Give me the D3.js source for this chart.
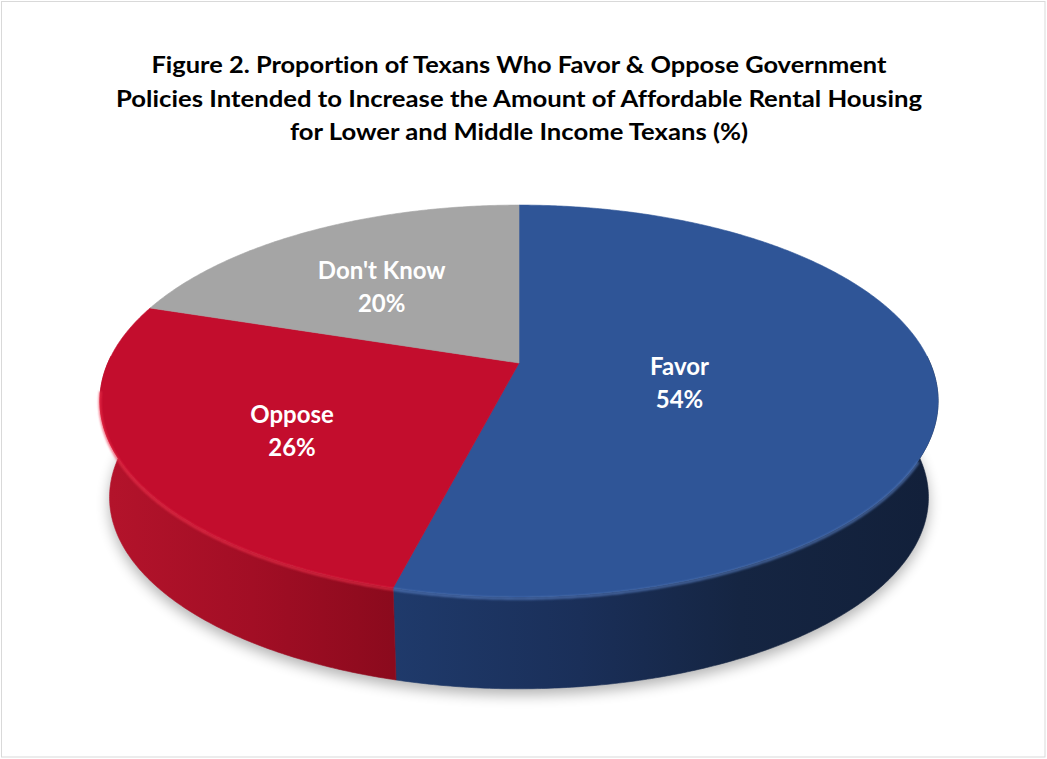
<!DOCTYPE html>
<html>
<head>
<meta charset="utf-8">
<script src="https://cdn.jsdelivr.net/npm/d3@7"></script>
<style>
  html, body { margin: 0; padding: 0; background: #fff; }
  svg { display: block; }
  text { font-family: Lato, "Open Sans", sans-serif; font-weight: 700; font-variant-ligatures: none; }
</style>
</head>
<body>
<svg id="chart" width="1047" height="759"></svg>
<script>
// Survey shares (%)
const categories = ["Favor", "Oppose", "Don't Know"];
const values = [54, 26, 20];
const titleLines = [
  "Figure 2. Proportion of Texans Who Favor & Oppose Government",
  "Policies Intended to Increase the Amount of Affordable Rental Housing",
  "for Lower and Middle Income Texans (%)"
];

// Styling
const topColors = ["#2f5597", "#c30d2d", "#a5a5a5"];
const rimColors = ["#5b82c6", "#f0324e", "#c8c8c8"];
const wallStops = [
  [["0%", "#1f3a6b"], ["35%", "#1a2f59"], ["65%", "#152542"], ["100%", "#12203a"]],
  [["0%", "#b3132b"], ["50%", "#a20e25"], ["100%", "#8b0a1d"]],
  [["0%", "#7d7d7d"], ["100%", "#6a6a6a"]]
];
const titleWidths = [735, 806, 458];

const W = 1047, H = 759;
const svg = d3.select("#chart");

// Perspective camera for the pie's top face
const cam = { cx: 519, cy: 363, f: 1883, D: 4.58, tilt: 27.3 * Math.PI / 180 };
const cosT = Math.cos(cam.tilt), sinT = Math.sin(cam.tilt);
// Vertical extrusion converges toward a vanishing point far below
const vanish = { x: 519, y: 4590, k: 0.977 };

function topPt(a, r = 1) {
  const X = r * Math.sin(a), Y = r * Math.cos(a);
  const d = cam.D + Y * cosT;
  return [cam.cx + cam.f * X / d, cam.cy - cam.f * Y * sinT / d];
}
function botPt(a) {
  const [x, y] = topPt(a);
  return [vanish.x + (x - vanish.x) * vanish.k, vanish.y + (y - vanish.y) * vanish.k];
}
function arcPts(fn, a0, a1) {
  const n = Math.max(2, Math.ceil(Math.abs(a1 - a0) / (Math.PI / 360)));
  return d3.range(n + 1).map(i => fn(a0 + (a1 - a0) * i / n));
}

const pie = d3.pie().sort(null).value(d => d.value);
const slices = pie(categories.map((c, i) => ({ name: c, value: values[i], i })));

const defs = svg.append("defs");
defs.append("filter").attr("id", "shadowBlur")
  .attr("x", "-20%").attr("y", "-20%").attr("width", "140%").attr("height", "140%")
  .append("feGaussianBlur").attr("stdDeviation", 7);
defs.append("filter").attr("id", "rimBlur")
  .attr("x", "-5%").attr("y", "-20%").attr("width", "110%").attr("height", "140%")
  .append("feGaussianBlur").attr("stdDeviation", 1.1);

// Frame
svg.append("rect")
  .attr("x", 1.5).attr("y", 1.5).attr("width", W - 3.5).attr("height", H - 3.5)
  .attr("fill", "#fff").attr("stroke", "#d9d9d9").attr("stroke-width", 1);

// Title
svg.append("g").selectAll("text").data(titleLines).join("text")
  .attr("x", 519)
  .attr("y", (d, i) => 73 + i * 33.7)
  .attr("text-anchor", "middle")
  .attr("font-size", 23.5)
  .attr("textLength", (d, i) => titleWidths[i])
  .attr("lengthAdjust", "spacingAndGlyphs")
  .attr("fill", "#000")
  .text(d => d);

const line = d3.line();

// Soft drop shadow under the pie
svg.append("path")
  .attr("d", line(arcPts(botPt, 0, 2 * Math.PI)) + "Z")
  .attr("transform", "translate(0,6)")
  .attr("fill", "#000").attr("opacity", 0.3)
  .attr("filter", "url(#shadowBlur)");

// Outer walls (front half is visible)
const wallLo = 88 * Math.PI / 180, wallHi = 272 * Math.PI / 180;
slices.forEach(s => {
  const a0 = Math.max(s.startAngle, wallLo), a1 = Math.min(s.endAngle, wallHi);
  if (a1 <= a0) return;
  const p0 = topPt(a0), p1 = topPt(a1);
  // gradient runs from the slice's left edge to its right edge
  const g = defs.append("linearGradient")
    .attr("id", "wall" + s.data.i)
    .attr("gradientUnits", "userSpaceOnUse")
    .attr("x1", Math.min(p0[0], p1[0])).attr("y1", 0)
    .attr("x2", Math.max(p0[0], p1[0])).attr("y2", 0);
  wallStops[s.data.i].forEach(st => {
    g.append("stop").attr("offset", st[0]).attr("stop-color", st[1]);
  });
  const pts = arcPts(topPt, a0, a1).concat(arcPts(botPt, a1, a0));
  svg.append("path")
    .attr("d", line(pts) + "Z")
    .attr("fill", `url(#wall${s.data.i})`)
    .attr("stroke", `url(#wall${s.data.i})`).attr("stroke-width", 0.6);
});

// Top faces
const apex = topPt(0, 0);
const faces = slices.map(s => [apex].concat(arcPts(topPt, s.startAngle, s.endAngle)));
svg.append("g").selectAll("path").data(slices).join("path")
  .attr("d", (s, i) => line(faces[i]) + "Z")
  .attr("fill", s => topColors[s.data.i])
  .attr("stroke", s => topColors[s.data.i]).attr("stroke-width", 0.6);

// Bevel highlight along the front rim
slices.forEach(s => {
  const a0 = Math.max(s.startAngle, 118 * Math.PI / 180), a1 = Math.min(s.endAngle, 262 * Math.PI / 180);
  if (a1 <= a0) return;
  const pts = arcPts(a => { const p = topPt(a); return [p[0], p[1] + 1.5]; }, a0, a1);
  svg.append("path")
    .attr("d", line(pts))
    .attr("fill", "none")
    .attr("stroke", rimColors[s.data.i]).attr("stroke-width", 2.6)
    .attr("opacity", 0.7)
    .attr("filter", "url(#rimBlur)");
});

// Data labels at each sector's centroid (projected onto the top face)
const labels = svg.append("g");
slices.forEach(s => {
  const span = s.endAngle - s.startAngle;
  const rc = 4 * Math.sin(span / 2) / (3 * span);
  const [lx, ly] = topPt((s.startAngle + s.endAngle) / 2, rc);
  const t = labels.append("text")
    .attr("text-anchor", "middle")
    .attr("font-size", 24)
    .attr("fill", "#fff");
  t.append("tspan").attr("x", lx).attr("y", ly + 3).text(s.data.name);
  t.append("tspan").attr("x", lx).attr("y", ly + 36).text(s.data.value + "%");
});
</script>
</body>
</html>
